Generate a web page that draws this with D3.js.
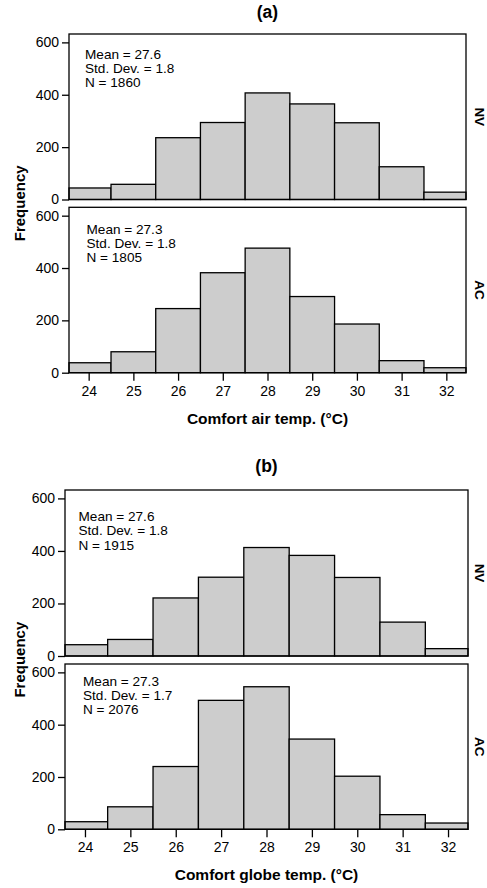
<!DOCTYPE html>
<html>
<head>
<meta charset="utf-8">
<script src="https://cdn.jsdelivr.net/npm/d3@7"></script>
<style>
  html, body { margin: 0; padding: 0; background: #fff; }
  svg { display: block; font-family: "Liberation Sans", Arial, sans-serif; }
</style>
</head>
<body>
<svg id="chart" width="487" height="888"></svg>
<script>
// Bin centres (°C), 1-degree bins
const bins = [24, 25, 26, 27, 28, 29, 30, 31, 32];
const xTickLabels = ["24", "25", "26", "27", "28", "29", "30", "31", "32"];
const yTicks = [0, 200, 400, 600];

// Frequencies per bin
const airNV   = [44, 58, 236, 294, 407, 365, 293, 125, 28];
const airAC   = [38, 80, 245, 382, 476, 291, 186, 46, 19];
const globeNV = [43, 63, 221, 300, 413, 383, 299, 129, 28];
const globeAC = [29, 86, 240, 493, 545, 345, 203, 56, 24];

// Summary statistics per histogram
const statsAirNV   = ["Mean = 27.6", "Std. Dev. = 1.8", "N = 1860"];
const statsAirAC   = ["Mean = 27.3", "Std. Dev. = 1.8", "N = 1805"];
const statsGlobeNV = ["Mean = 27.6", "Std. Dev. = 1.8", "N = 1915"];
const statsGlobeAC = ["Mean = 27.3", "Std. Dev. = 1.7", "N = 2076"];

const groups = ["NV", "AC"];
const figTitles = ["(a)", "(b)"];
const xTitles = ["Comfort air temp. (°C)", "Comfort globe temp. (°C)"];

// Layout of the two figures
const figures = [
  { title: figTitles[0], xTitle: xTitles[0], left: 69, right: 466, titleY: 18,
    panels: [
      { label: groups[0], values: airNV, stats: statsAirNV, top: 34, h: 165.5, sx: 16, sy: 25, gap: 13.8 },
      { label: groups[1], values: airAC, stats: statsAirAC, top: 207.3, h: 165.4, sx: 17.5, sy: 27, gap: 13.8 }
    ] },
  { title: figTitles[1], xTitle: xTitles[1], left: 65, right: 468, titleY: 471.5,
    panels: [
      { label: groups[0], values: globeNV, stats: statsGlobeNV, top: 490, h: 166, sx: 13.5, sy: 30.5, gap: 14.5 },
      { label: groups[1], values: globeAC, stats: statsGlobeAC, top: 664, h: 165.3, sx: 18, sy: 22, gap: 13.8 }
    ] }
];

const xDomain = [23.56, 32.44];
const yMax = 632;
const barFill = "#cdcdcd";
const sw = 1.3;

const svg = d3.select("#chart");

figures.forEach(fig => {
  const g = svg.append("g");
  const x = d3.scaleLinear().domain(xDomain).range([fig.left, fig.right]).clamp(true);
  const cx = (fig.left + fig.right) / 2;

  g.append("text")
    .attr("x", cx).attr("y", fig.titleY)
    .attr("text-anchor", "middle")
    .attr("font-size", 17.5).attr("font-weight", "bold")
    .text(fig.title);

  fig.panels.forEach((p, i) => {
    const bottom = p.top + p.h;
    const y = d3.scaleLinear().domain([0, yMax]).range([bottom, p.top]);
    const pg = g.append("g");

    // bars
    pg.selectAll("rect.bar")
      .data(bins.map((b, k) => ({ b, v: p.values[k] })))
      .join("rect")
      .attr("class", "bar")
      .attr("x", d => x(d.b - 0.5))
      .attr("width", d => x(d.b + 0.5) - x(d.b - 0.5))
      .attr("y", d => y(d.v))
      .attr("height", d => y(0) - y(d.v))
      .attr("fill", barFill)
      .attr("stroke", "#000")
      .attr("stroke-width", sw);

    // frame
    pg.append("rect")
      .attr("x", fig.left).attr("y", p.top)
      .attr("width", fig.right - fig.left).attr("height", p.h)
      .attr("fill", "none").attr("stroke", "#000").attr("stroke-width", sw);

    // y axis
    const ya = pg.append("g")
      .attr("transform", `translate(${fig.left},0)`)
      .call(d3.axisLeft(y).tickValues(yTicks).tickFormat(d3.format("d")).tickSize(7).tickPadding(3));
    ya.select(".domain").remove();
    ya.selectAll("line").attr("stroke-width", sw);
    ya.selectAll("text").attr("font-size", 14).attr("font-family", "Liberation Sans, Arial, sans-serif").attr("fill", "#000");

    // x axis on the lower panel only
    if (i === fig.panels.length - 1) {
      const xa = pg.append("g")
        .attr("transform", `translate(0,${bottom})`)
        .call(d3.axisBottom(x).tickValues(bins).tickFormat((d, k) => xTickLabels[k]).tickSize(8).tickPadding(5));
      xa.select(".domain").remove();
      xa.selectAll("line").attr("stroke-width", sw);
      xa.selectAll("text").attr("font-size", 14).attr("font-family", "Liberation Sans, Arial, sans-serif").attr("fill", "#000");

      g.append("text")
        .attr("x", cx).attr("y", bottom + 51)
        .attr("text-anchor", "middle")
        .attr("font-size", 15.5).attr("font-weight", "bold")
        .text(fig.xTitle);
    }

    // statistics
    p.stats.forEach((s, k) => {
      pg.append("text")
        .attr("x", fig.left + p.sx)
        .attr("y", p.top + p.sy + k * p.gap)
        .attr("font-size", 13.6)
        .text(s);
    });

    // group label on the right
    pg.append("text")
      .attr("transform", `translate(479.5,${p.top + p.h / 2}) rotate(90)`)
      .attr("text-anchor", "middle")
      .attr("dy", "0.36em")
      .attr("font-size", 13.5).attr("font-weight", "bold")
      .text(p.label);
  });

  // shared y title
  const p0 = fig.panels[0], p1 = fig.panels[1];
  const midY = (p0.top + p1.top + p1.h) / 2;
  g.append("text")
    .attr("transform", `translate(24.5,${midY}) rotate(-90)`)
    .attr("text-anchor", "middle")
    .attr("font-size", 15).attr("font-weight", "bold")
    .text("Frequency");
});
</script>
</body>
</html>
